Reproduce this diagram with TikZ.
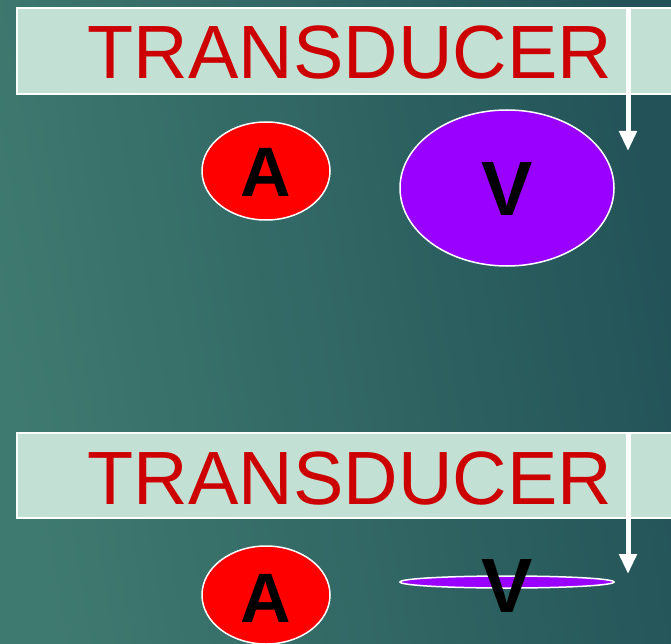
\documentclass[tikz,border=0pt]{standalone}
\usepackage{fontspec}
\setmainfont{Liberation Sans}
\usetikzlibrary{arrows.meta,shapes.geometric}
\definecolor{bgL}{HTML}{3F7A70}
\definecolor{bgR}{HTML}{235358}
\definecolor{boxfill}{HTML}{C3E0D5}
\definecolor{tred}{HTML}{CC0000}
\definecolor{aRed}{HTML}{FF0000}
\definecolor{vPurple}{HTML}{9900FF}
\tikzset{
  titlebox/.style={draw=white, line width=2pt, fill=boxfill},
  titletext/.style={text=tred, font=\fontsize{75.5}{75}\selectfont, inner sep=0pt, anchor=base},
  disc/.style={draw=white, line width=1.5pt, ellipse, inner sep=0pt},
  letter/.style={font=\bfseries\fontsize{70}{70}\selectfont, text=black, inner sep=0pt, anchor=base},
  vletter/.style={letter, font=\bfseries\fontsize{77}{77}\selectfont},
  pointer/.style={draw=white, line width=5pt, -{Triangle[width=17pt,length=20pt]}}
}
\begin{document}
\begin{tikzpicture}[x=1pt,y=-1pt]
\useasboundingbox (0,0) rectangle (671,644);
\shade[left color=bgL, right color=bgR, shading angle=100] (0,0) rectangle (671,644);
% top
\node[titlebox, minimum width=660pt, minimum height=86pt, anchor=north west, inner sep=0pt] (box1) at (16,7) {};
\node[titletext] (t1) at (350,79) {TRANSDUCER};
\coordinate (p1s) at (628,7);
\coordinate (p1e) at (628,151);
\draw[pointer] (p1s) -- (p1e);
\node[disc, fill=aRed, minimum width=128pt, minimum height=98pt] (a1) at (266,171) {};
\node[letter] (la1) at (266,197) {A};
\node[disc, fill=vPurple, minimum width=214pt, minimum height=156pt] (v1) at (507,188) {};
\node[vletter] (lv1) at (507,215) {V};
% bottom
\node[titlebox, minimum width=660pt, minimum height=85pt, anchor=north west, inner sep=0pt] (box2) at (16,432) {};
\node[titletext] (t2) at (350,504) {TRANSDUCER};
\coordinate (p2s) at (628,432);
\coordinate (p2e) at (628,574);
\draw[pointer] (p2s) -- (p2e);
\node[disc, fill=aRed, minimum width=128pt, minimum height=98pt] (a2) at (266,595) {};
\node[letter] (la2) at (266,622) {A};
\node[disc, fill=vPurple, minimum width=214pt, minimum height=12pt] (v2) at (507,582) {};
\node[vletter] (lv2) at (507,612) {V};
\end{tikzpicture}
\end{document}
